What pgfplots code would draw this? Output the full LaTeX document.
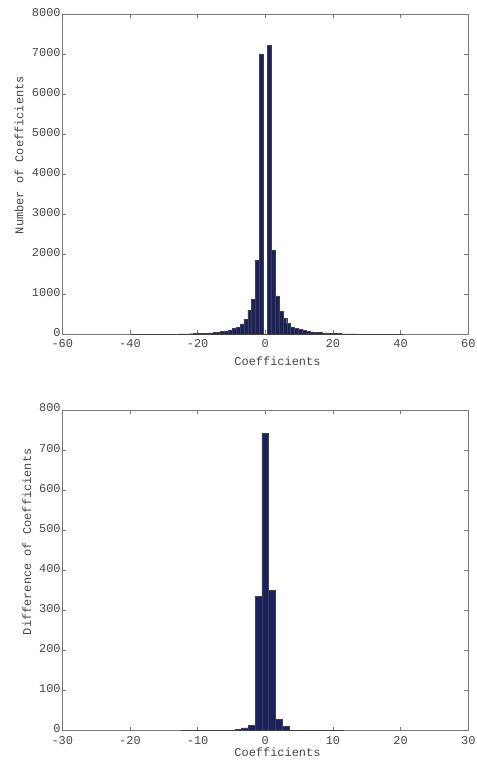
\documentclass[border=0pt]{standalone}
\usepackage{pgfplots}
\usepackage{pgfplotstable}
\pgfplotsset{compat=1.18}
\usepackage{fontspec}
\setmainfont{Liberation Mono}

\definecolor{barblue}{RGB}{27,33,96}
\definecolor{axisgray}{RGB}{120,120,120}
\definecolor{labelgray}{RGB}{70,70,70}

% histogram of coefficients, bin width 1.15
\pgfplotstableread{
x y
-39.1 1
-37.95 2
-36.8 1
-35.65 2
-34.5 2
-33.35 3
-32.2 2
-31.05 3
-29.9 4
-28.75 5
-27.6 6
-26.45 7
-25.3 8
-24.15 10
-23 12
-21.85 14
-20.7 17
-19.55 20
-18.4 25
-17.25 30
-16.1 35
-14.95 42
-13.8 52
-12.65 67
-11.5 85
-10.35 110
-9.2 140
-8.05 175
-6.9 260
-5.75 380
-4.6 600
-3.45 880
-2.3 1850
-1.15 7010
0 0
1.15 7220
2.3 2090
3.45 960
4.6 580
5.75 390
6.9 265
8.05 185
9.2 145
10.35 115
11.5 90
12.65 72
13.8 58
14.95 47
16.1 40
17.25 34
18.4 28
19.55 23
20.7 19
21.85 16
23 13
24.15 11
25.3 9
26.45 8
27.6 7
28.75 6
29.9 5
31.05 4
32.2 3
33.35 3
34.5 2
35.65 2
36.8 2
37.95 1
39.1 1
40.25 1
}\coeffs

% histogram of coefficient differences, bin width 1
\pgfplotstableread{
x y
-12 1
-11 1
-10 1
-9 1
-8 1
-7 1
-6 1
-5 1
-4 4
-3 7
-2 13
-1 335
0 742
1 350
2 29
3 10
4 1
5 1
6 1
7 1
8 1
9 1
10 1
11 1
}\diffs

\pgfplotsset{
  histaxis/.style={
    scale only axis,
    width=406bp,
    axis line style={draw=axisgray, line width=0.7pt},
    tick pos=both,
    tick align=inside,
    major tick length=4bp,
    tick style={draw=axisgray, line width=0.6pt},
    ticklabel style={font=\fontsize{12}{12}\selectfont, text=labelgray},
    yticklabel style={inner xsep=1.5pt, yshift=2bp},
    xticklabel style={inner ysep=2pt, yshift=-3.5bp},
    /pgf/number format/assume math mode=true,
    /pgf/number format/1000 sep={},
    scaled ticks=false,
    ymin=0,
  },
  histbars/.style={
    ybar, bar shift=0pt,
    fill=barblue, draw=black!75, line width=0.4pt,
  },
}

\begin{document}
\begin{tikzpicture}
\path[use as bounding box] (0,0) rectangle (477bp,-760bp);

\begin{axis}[histaxis,
  at={(62.3bp,-14.3bp)}, anchor=north west,
  height=320bp,
  xmin=-60, xmax=60, ymax=8000,
  xtick={-60,-40,...,60},
  ytick={0,1000,...,8000},
  xlabel={Coefficients},
  ylabel={Number of Coefficients},
  every axis x label/.style={at={(axis description cs:0.53,0)}, anchor=center, yshift=-27bp,
    font=\fontsize{12}{12}\selectfont, text=labelgray},
  every axis y label/.style={at={(axis description cs:-0.1067,0.56)}, anchor=center, rotate=90,
    font=\fontsize{12}{12}\selectfont, text=labelgray},
]
\addplot[histbars, bar width=1.15] table {\coeffs};
\end{axis}

\begin{axis}[histaxis,
  at={(62.3bp,-410bp)}, anchor=north west,
  height=320.7bp,
  xmin=-30, xmax=30, ymax=800,
  xtick={-30,-20,...,30},
  ytick={0,100,...,800},
  xlabel={Coefficients},
  ylabel={Difference of Coefficients},
  every axis x label/.style={at={(axis description cs:0.53,0)}, anchor=center, yshift=-22bp,
    font=\fontsize{12}{12}\selectfont, text=labelgray},
  every axis y label/.style={at={(axis description cs:-0.087,0.589)}, anchor=center, rotate=90,
    font=\fontsize{12}{12}\selectfont, text=labelgray},
]
\addplot[histbars, bar width=1] table {\diffs};
\end{axis}
\end{tikzpicture}
\end{document}
